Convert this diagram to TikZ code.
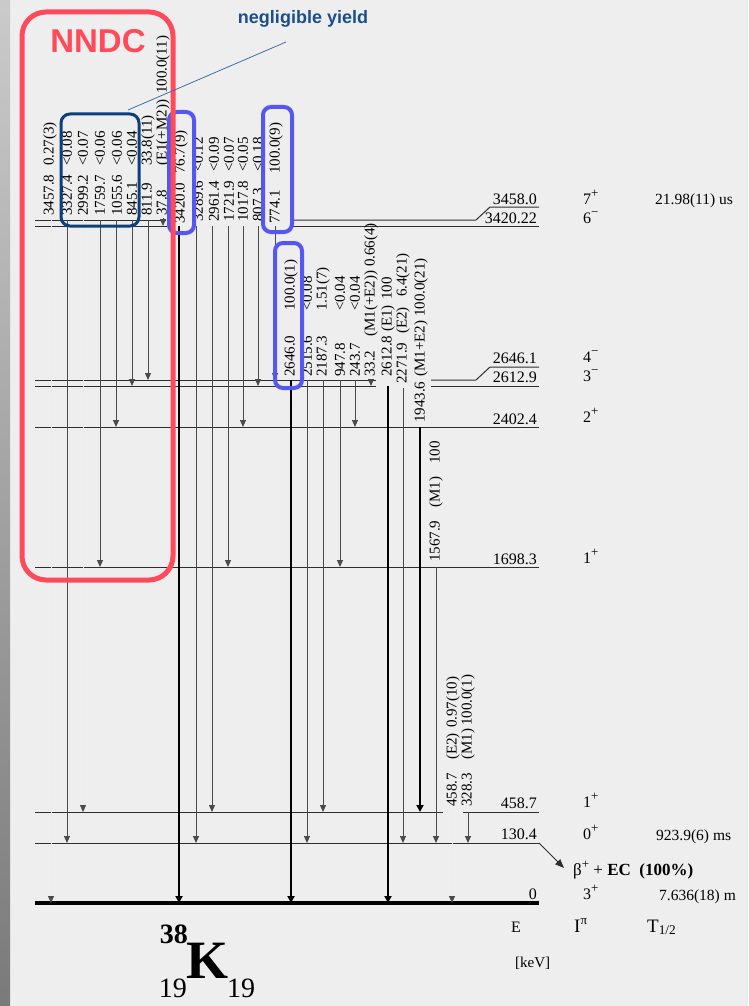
\documentclass[tikz,border=0pt]{standalone}
\usepackage{fontspec}
\setmainfont{Liberation Serif}
\newfontfamily\slidesans{Liberation Sans}
\usepackage{tikz}
\usetikzlibrary{arrows.meta,calc,positioning}
\definecolor{slidebg}{HTML}{EEEEEE}
\definecolor{slideedge}{HTML}{7A7A7A}
\definecolor{nndcred}{HTML}{FF4A5C}
\definecolor{yieldnavy}{HTML}{0D3F7C}
\definecolor{yieldtext}{HTML}{1B4F8C}
\definecolor{yieldleader}{HTML}{3E6FA8}
\definecolor{markblue}{HTML}{5656F2}
\definecolor{levelink}{HTML}{2E2E2E}
\definecolor{gammaink}{HTML}{4A4A4A}
\newcommand{\efield}[2]{\makebox[#1pt][l]{#2}}
\newcommand{\parity}[1]{\raisebox{0.42em}{\fontsize{13}{13}\selectfont #1}}
\tikzset{
level line/.style={draw=levelink, line width=1pt},
ground line/.style={draw=black, line width=3.2pt},
gamma/.style={draw=gammaink, line width=1pt, -{Triangle[width=6pt,length=7pt]}},
gamma strong/.style={draw=black, line width=2.2pt, -{Triangle[width=7pt,length=7pt]}},
gamma weak/.style={draw=black!8, line width=0.3pt, -{Triangle[width=6pt,length=7pt,color=gammaink]}},
gamma label/.style={rotate=90, anchor=west, inner sep=0pt, font=\fontsize{15}{15}\selectfont},
level label/.style={anchor=base east, inner sep=0pt, font=\fontsize{16}{16}\selectfont},
spin label/.style={anchor=base west, inner sep=0pt, font=\fontsize{16}{16}\selectfont},
life label/.style={anchor=base west, inner sep=0pt, font=\fontsize{15.5}{15.5}\selectfont},
head label/.style={anchor=base west, inner sep=0pt, font=\fontsize{19}{19}\selectfont},
nndc box/.style={draw=nndcred, line width=5pt, rounded corners=24pt, inner sep=0pt, outer sep=0pt},
yield box/.style={draw=yieldnavy, line width=3pt, rounded corners=9pt, inner sep=0pt, outer sep=0pt},
mark box/.style={draw=markblue, line width=4pt, rounded corners=8pt, inner sep=0pt, outer sep=0pt},
decay arrow/.style={draw=levelink, line width=1pt, -{Triangle[width=7pt,length=9pt]}}
}

\begin{document}
\begin{tikzpicture}[x=1pt,y=-1pt]
\useasboundingbox (0,0) rectangle (748,1006);
\fill[slidebg] (0,0) rectangle (748,1006);
\shade[top color=slidebg!85!black, bottom color=slideedge] (0,0) rectangle (10,1006);

\draw[level line] (35,220) -- (166,220);
\draw[level line] (290,220) -- (476,220) -- (490,207) -- (539,207);
\draw[level line] (35,226) -- (167,226);
\draw[level line] (290,226) -- (539,226);
\draw[level line] (35,380) -- (376,380);
\draw[level line] (431,380) -- (476,380) -- (490,367) -- (539,367);
\draw[level line] (35,386) -- (376,386);
\draw[level line] (431,386) -- (539,386);
\draw[level line] (35,427) -- (539,427);
\draw[level line] (35,567) -- (539,567);
\draw[level line] (35,812) -- (443,812);
\draw[level line] (463,812) -- (539,812);
\draw[level line] (35,843) -- (539,843);
\draw[ground line] (35,903) -- (539,903);

\draw[gamma weak] (51,220) -- (51,903);
\draw[gamma] (67,220) -- (67,843);
\draw[gamma weak] (83,220) -- (83,812);
\draw[gamma] (100,220) -- (100,567);
\draw[gamma] (116,220) -- (116,427);
\draw[gamma] (132,220) -- (132,386);
\draw[gamma] (148,220) -- (148,380);
\draw[gamma] (163,218) -- (163,226);
\draw[gamma strong] (179,226) -- (179,903);
\draw[gamma] (196,226) -- (196,843);
\draw[gamma] (212,226) -- (212,812);
\draw[gamma] (228,226) -- (228,567);
\draw[gamma] (243,226) -- (243,427);
\draw[gamma] (258,226) -- (258,386);
\draw[gamma] (275,226) -- (275,380);
\draw[gamma strong] (291,380) -- (291,903);
\draw[gamma] (307,380) -- (307,843);
\draw[gamma] (323,380) -- (323,812);
\draw[gamma] (340,380) -- (340,567);
\draw[gamma] (355,380) -- (355,427);
\draw[gamma] (371,380) -- (371,386);
\draw[gamma strong] (388,386) -- (388,903);
\draw[gamma] (403,388) -- (403,843);
\draw[gamma strong] (420,427) -- (420,812);
\draw[gamma] (436,567) -- (436,843);
\draw[gamma weak] (452,812) -- (452,903);
\draw[gamma] (468,812) -- (468,843);

\node[gamma label] (g3457) at (50,216) {\efield{50}{3457.8}0.27(3)};
\node[gamma label] (g3327) at (67,216) {\efield{50}{3327.4}<0.08};
\node[gamma label] (g2999) at (83,216) {\efield{50}{2999.2}<0.07};
\node[gamma label] (g1759) at (100,216) {\efield{50}{1759.7}<0.06};
\node[gamma label] (g1055) at (117,216) {\efield{50}{1055.6}<0.06};
\node[gamma label] (g845) at (132,216) {\efield{50}{845.1}<0.04};
\node[gamma label] (g811) at (148,216) {\efield{50}{811.9}33.8(11)};
\node[gamma label] (g37) at (163,216) {\efield{50}{37.8}\efield{72}{(E1(+M2))}100.0(11)};
\node[gamma label] (g3420) at (181,224) {\efield{50}{3420.0}76.7(9)};
\node[gamma label] (g3289) at (198,222) {\efield{50}{3289.6}<0.12};
\node[gamma label] (g2961) at (214,222) {\efield{50}{2961.4}<0.09};
\node[gamma label] (g1721) at (229,222) {\efield{50}{1721.9}<0.07};
\node[gamma label] (g1017) at (243,222) {\efield{50}{1017.8}<0.05};
\node[gamma label] (g807) at (258,222) {\efield{50}{807.3}<0.18};
\node[gamma label] (g774) at (276,224) {\efield{50}{774.1}100.0(9)};
\node[gamma label] (g2646) at (291,377) {\efield{66}{2646.0}100.0(1)};
\node[gamma label] (g2515) at (307,377) {\efield{66}{2515.6}<0.08};
\node[gamma label] (g2187) at (323,377) {\efield{66}{2187.3}1.51(7)};
\node[gamma label] (g947) at (340,377) {\efield{66}{947.8}<0.04};
\node[gamma label] (g243) at (355,377) {\efield{66}{243.7}<0.04};
\node[gamma label] (g33) at (371,377) {\efield{40}{33.2}\efield{70}{(M1(+E2))}0.66(4)};
\node[gamma label] (g2612) at (388,377) {\efield{45}{2612.8}\efield{32}{(E1)}100};
\node[gamma label] (g2271) at (403,384) {\efield{50}{2271.9}\efield{37}{(E2)}6.4(21)};
\node[gamma label] (g1943) at (421,423) {\efield{46}{1943.6}\efield{60}{(M1+E2)}100.0(21)};
\node[gamma label] (g1567) at (436,562) {\efield{54}{1567.9}\efield{44}{(M1)}100};
\node[gamma label] (g458) at (453,807) {\efield{47}{458.7}\efield{32}{(E2)}0.97(10)};
\node[gamma label] (g328) at (468,807) {\efield{47}{328.3}\efield{34}{(M1)}100.0(1)};

\node[level label] (e3458) at (537,204) {3458.0};
\node[level label] (e3420) at (537,223) {3420.22};
\node[level label] (e2646) at (537,363) {2646.1};
\node[level label] (e2613) at (537,382) {2612.9};
\node[level label] (e2402) at (537,424) {2402.4};
\node[level label] (e1698) at (537,564) {1698.3};
\node[level label] (e459) at (537,808) {458.7};
\node[level label] (e130) at (537,839) {130.4};
\node[level label] (e0) at (537,899) {0};

\node[spin label] (j3458) at (583,204) {7\parity{+}};
\node[spin label] (j3420) at (583,223) {6\parity{−}};
\node[spin label] (j2646) at (583,362) {4\parity{−}};
\node[spin label] (j2613) at (583,381) {3\parity{−}};
\node[spin label] (j2402) at (583,422) {2\parity{+}};
\node[spin label] (j1698) at (583,563) {1\parity{+}};
\node[spin label] (j459) at (583,807) {1\parity{+}};
\node[spin label] (j130) at (583,839) {0\parity{+}};
\node[spin label] (j0) at (583,899) {3\parity{+}};

\node[life label] (t3458) at (655,204) {21.98(11) us};
\node[life label] (t130) at (656,840) {923.9(6) ms};
\node[life label] (t0) at (659,900) {7.636(18) m};

\coordinate (lvl130end) at (539,843);
\coordinate (decaytip) at (564,868);
\draw[decay arrow] (lvl130end) -- (decaytip);
\node[anchor=west, inner sep=0pt, font=\fontsize{17}{17}\selectfont] (betadecay) at (573,870) {β\parity{+} + \textbf{EC\ \ (100\%)}};

\node[anchor=base west, inner sep=0pt, font=\fontsize{16}{16}\selectfont] (ehead) at (511,932) {E};
\node[head label] (jhead) at (574,932) {I\parity{π}};
\node[head label] (thead) at (647,932) {T\textsubscript{1/2}};
\node[anchor=base west, inner sep=0pt, font=\fontsize{15}{15}\selectfont] (kevhead) at (515,967) {[keV]};

\node[anchor=base, inner sep=0pt, font=\fontsize{54}{54}\selectfont\bfseries] (nucleus) at (207,978) {K};
\node[anchor=base east, inner sep=0pt, font=\fontsize{28}{28}\selectfont\bfseries] (massnum) at (188,943) {38};
\node[anchor=base east, inner sep=0pt, font=\fontsize{28}{28}\selectfont] (protnum) at (187,997) {19};
\node[anchor=base west, inner sep=0pt, font=\fontsize{28}{28}\selectfont] (neutnum) at (227,997) {19};

\node[mark box, minimum width=25pt, minimum height=121pt] (mark3420) at (181.5,172.5) {};
\node[mark box, minimum width=29pt, minimum height=125pt] (mark774) at (277.5,169.5) {};
\node[mark box, minimum width=27pt, minimum height=145pt] (mark2646) at (288.5,315.5) {};
\node[yield box, minimum width=78pt, minimum height=112pt] (negbox) at (100,170) {};
\node[nndc box, minimum width=151pt, minimum height=568pt] (nndcbox) at (97.5,296) {};

\node[text=nndcred, inner sep=0pt, font=\fontsize{33}{33}\selectfont\slidesans\bfseries] (nndc) at (98,41) {NNDC};
\node[text=yieldtext, inner sep=0pt, font=\fontsize{18}{18}\selectfont\slidesans\bfseries] (yield) at (303,19) {negligible yield};
\coordinate (leadstart) at (286,42);
\coordinate (leadend) at (128,110);
\draw[draw=yieldleader, line width=0.8pt] (leadstart) -- (leadend);
\end{tikzpicture}
\end{document}
